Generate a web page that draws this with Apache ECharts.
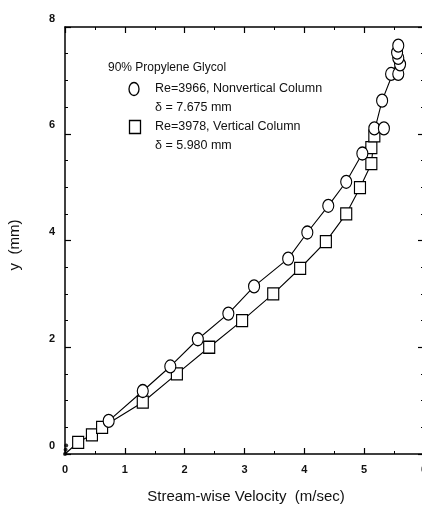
<!DOCTYPE html>
<html>
<head>
<meta charset="utf-8">
<script src="https://cdn.jsdelivr.net/npm/echarts@6/dist/echarts.min.js"></script>
<style>
html,body{margin:0;padding:0;background:#fff;}
#chart{width:422px;height:511px;}
</style>
</head>
<body>
<div id="chart"></div>
<script>
// Re=3966, Nonvertical Column (circles): [velocity m/s, y mm]
const circlePoints = [[0.73,0.62],[1.30,1.18],[1.76,1.64],[2.22,2.15],[2.73,2.63],[3.16,3.14],[3.73,3.66],[4.05,4.15],[4.40,4.65],[4.70,5.10],[4.97,5.63],[5.17,6.10],[5.33,6.10],[5.30,6.62],[5.45,7.12],[5.57,7.12],[5.60,7.30],[5.57,7.42],[5.55,7.52],[5.57,7.65]];
const circleCurve = [[0.73,0.62],[1.30,1.18],[1.76,1.64],[2.22,2.15],[2.73,2.63],[3.16,3.14],[3.73,3.66],[4.05,4.15],[4.40,4.65],[4.70,5.10],[4.97,5.63],[5.17,6.05],[5.30,6.62],[5.45,7.05],[5.58,7.45]];
// Re=3978, Vertical Column (squares)
const squarePoints = [[0.22,0.22],[0.45,0.36],[0.62,0.50],[1.30,0.97],[1.87,1.50],[2.41,2.00],[2.96,2.50],[3.48,3.00],[3.93,3.48],[4.36,3.98],[4.70,4.50],[4.93,4.99],[5.12,5.44],[5.12,5.74],[5.17,5.96]];
const squareCurve = [[0.0,0.0],[0.22,0.22],[0.45,0.36],[0.62,0.50],[1.30,0.97],[1.87,1.50],[2.41,2.00],[2.96,2.50],[3.48,3.00],[3.93,3.48],[4.36,3.98],[4.70,4.50],[4.93,4.99],[5.12,5.44],[5.17,5.96]];
// near-wall points
const wallPoints = [[0.0,0.0],[0.01,0.08],[0.02,0.16]];
const xTitle = 'Stream-wise Velocity  (m/sec)';
const yTitle = 'y  (mm)';
const legendTitle = '90% Propylene Glycol';
const legendLines = ['Re=3966, Nonvertical Column','δ = 7.675 mm','Re=3978, Vertical Column','δ = 5.980 mm'];

const FONT = '"Liberation Sans", Arial, sans-serif';
const axisLine = {show:true, onZero:false, lineStyle:{color:'#000', width:1.5}};
const tick = {show:true, inside:true, length:6, lineStyle:{color:'#000', width:1.2}};
const chart = echarts.init(document.getElementById('chart'));
const txt = (x,y,t,size) => ({type:'text', x:x, y:y, style:{text:t, fill:'#111', font: size+'px ' + FONT, textVerticalAlign:'middle'}});

chart.setOption({
  animation:false,
  backgroundColor:'#fff',
  grid:{left:65, top:27, right:-2, bottom:57, containLabel:false, outerBoundsMode:'none'},
  xAxis:[{
    type:'value', min:0, max:6, interval:1, position:'bottom',
    axisLine:axisLine, axisTick:tick,
    minorTick:{show:true, splitNumber:2, length:3, lineStyle:{color:'#000', width:1}},
    axisLabel:{color:'#111', fontFamily:FONT, fontSize:11, fontWeight:'bold', margin:10, hideOverlap:false},
    splitLine:{show:false}
  },{
    type:'value', min:0, max:6, interval:1, position:'top',
    axisLine:axisLine, axisTick:tick,
    minorTick:{show:true, splitNumber:2, length:3, lineStyle:{color:'#000', width:1}},
    axisLabel:{show:false}, splitLine:{show:false}
  }],
  yAxis:[{
    type:'value', min:0, max:8, interval:2, position:'left',
    axisLine:axisLine, axisTick:tick,
    minorTick:{show:true, splitNumber:4, length:3, lineStyle:{color:'#000', width:1}},
    axisLabel:{color:'#111', fontFamily:FONT, fontSize:11, fontWeight:'bold', margin:10, verticalAlign:'bottom', padding:[0,0,3,0]},
    splitLine:{show:false}
  },{
    type:'value', min:0, max:8, interval:2, position:'right',
    axisLine:axisLine, axisTick:tick,
    minorTick:{show:true, splitNumber:4, length:3, lineStyle:{color:'#000', width:1}},
    axisLabel:{show:false}, splitLine:{show:false}
  }],
  series:[
    {type:'line', data:circleCurve, symbol:'none', lineStyle:{color:'#000', width:1.1}, z:2},
    {type:'line', data:squareCurve, symbol:'none', lineStyle:{color:'#000', width:1.1}, z:2},
    {type:'scatter', data:wallPoints, symbol:'circle', symbolSize:4, itemStyle:{color:'#000'}, z:3},
    {type:'scatter', data:squarePoints, symbol:'rect', symbolSize:[11,12], itemStyle:{color:'#fff', borderColor:'#000', borderWidth:1.2, opacity:1}, z:4},
    {type:'scatter', data:circlePoints, symbol:'circle', symbolSize:[11,13], itemStyle:{color:'#fff', borderColor:'#000', borderWidth:1.2, opacity:1}, z:5}
  ],
  graphic:[
    txt(108,68,legendTitle,12),
    {type:'ellipse', shape:{cx:134, cy:89, rx:5, ry:6.5}, style:{fill:'#fff', stroke:'#000', lineWidth:1.3}},
    txt(155,89,legendLines[0],12.5),
    txt(155,108,legendLines[1],12.5),
    {type:'rect', shape:{x:129.5, y:120.5, width:11, height:13}, style:{fill:'#fff', stroke:'#000', lineWidth:1.3}},
    txt(155,127,legendLines[2],12.5),
    txt(155,146,legendLines[3],12.5),
    {type:'text', x:246, y:497, style:{text:xTitle, fill:'#111', font:'15px ' + FONT, textAlign:'center', textVerticalAlign:'middle'}},
    {type:'text', x:15, y:245, rotation:Math.PI/2, style:{text:yTitle, fill:'#111', font:'15px ' + FONT, textAlign:'center', textVerticalAlign:'middle'}}
  ]
});
</script>
</body>
</html>
